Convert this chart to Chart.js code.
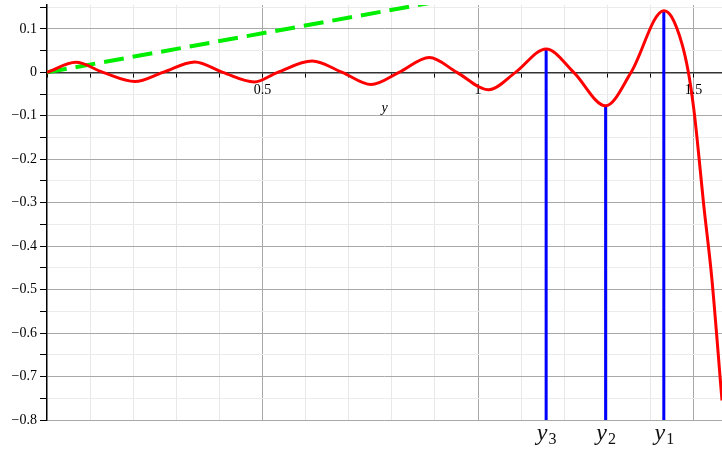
<!DOCTYPE html>
<html>
<head>
<meta charset="utf-8">
<script src="https://cdn.jsdelivr.net/npm/chart.js@4.4.0/dist/chart.umd.min.js"></script>
<style>
html, body { margin: 0; padding: 0; background: #fff; }
#wrap { width: 722px; height: 453px; }
</style>
</head>
<body>
<div id="wrap"><canvas id="plot"></canvas></div>
<script>
// red curve (peaks, troughs and zero crossings)
const curveX = [0, 0.067, 0.13, 0.204, 0.269, 0.343, 0.408, 0.481, 0.535, 0.615, 0.685, 0.752, 0.817, 0.887, 0.951,
    1.025, 1.087, 1.158, 1.222, 1.296, 1.355, 1.431, 1.449, 1.473, 1.488, 1.500, 1.508, 1.523, 1.542, 1.566];
const curveY = [0, 0.023, 0, -0.021, 0, 0.024, 0, -0.022, 0, 0.026, 0, -0.028, 0, 0.034, 0,
    -0.040, 0, 0.054, 0, -0.077, 0, 0.142, 0.128, 0.066, 0, -0.08, -0.15, -0.30, -0.47, -0.755];

// green dashed line
const lineX = [0, 0.89];
const lineY = [0, 0.16];

// blue markers
const rootX = [1.158, 1.296, 1.431];
const rootY = [0.054, -0.077, 0.142];
const rootSubs = ['3', '2', '1'];

const xMin = 0, xMax = 1.566;
const yMin = -0.8, yMax = 0.155;

function zip(xs, ys) {
    return xs.map((x, i) => ({x: x, y: ys[i]}));
}

function isMajorX(v) { return Math.round(v * 10) % 5 === 0; }
function isMajorY(v) { return Math.round(v * 100) % 10 === 0; }

const datasets = [
    {
        data: zip(curveX, curveY),
        borderColor: '#ff0000',
        borderWidth: 3,
        cubicInterpolationMode: 'monotone',
        pointRadius: 0,
        order: 0
    },
    {
        data: zip(lineX, lineY),
        borderColor: '#00ee00',
        borderWidth: 4,
        borderDash: [20, 9],
        pointRadius: 0,
        order: 2
    }
];
rootX.forEach((rx, i) => {
    datasets.push({
        data: [{x: rx, y: yMin}, {x: rx, y: rootY[i]}],
        borderColor: '#0000ff',
        borderWidth: 3,
        pointRadius: 0,
        order: 1
    });
});

const rootLabelPlugin = {
    id: 'rootLabels',
    afterDraw(chart) {
        const ctx = chart.ctx;
        const xs = chart.scales.x;
        const base = chart.chartArea.bottom + 20;
        ctx.save();
        ctx.fillStyle = '#111';
        ctx.textBaseline = 'alphabetic';
        rootX.forEach((rx, i) => {
            const cx = xs.getPixelForValue(rx);
            ctx.font = 'italic 24px "Liberation Serif"';
            const w1 = ctx.measureText('y').width;
            ctx.font = '16px "Liberation Serif"';
            const w2 = ctx.measureText(rootSubs[i]).width;
            const left = cx - (w1 + w2) / 2;
            ctx.font = 'italic 24px "Liberation Serif"';
            ctx.fillText('y', left, base);
            ctx.font = '16px "Liberation Serif"';
            ctx.fillText(rootSubs[i], left + w1 + 1, base + 4);
        });
        ctx.restore();
    }
};

const chart = new Chart(document.getElementById('plot'), {
    type: 'line',
    data: { datasets: datasets },
    plugins: [rootLabelPlugin],
    options: {
        responsive: true,
        maintainAspectRatio: false,
        animation: false,
        layout: { padding: { top: 5, bottom: 33, left: 0, right: 0 } },
        plugins: { legend: { display: false }, tooltip: { enabled: false } },
        scales: {
            x: {
                type: 'linear',
                min: xMin,
                max: xMax,
                position: { y: 0 },
                afterBuildTicks: scale => {
                    let t = [];
                    for (let i = 0; i <= 15; i++) t.push({value: i / 10});
                    scale.ticks = t;
                },
                ticks: {
                    autoSkip: false,
                    maxRotation: 0,
                    padding: 6,
                    color: '#000',
                    font: { family: '"Liberation Serif"', size: 14 },
                    callback: v => (v !== 0 && isMajorX(v)) ? String(Math.round(v * 10) / 10) : ''
                },
                grid: {
                    color: c => {
                        const v = c.tick.value;
                        if (v === 0) return 'rgba(0,0,0,0)';
                        return isMajorX(v) ? '#a8a8a8' : '#e8e8e8';
                    },
                    tickColor: '#000',
                    tickLength: 4
                },
                border: { color: '#333', width: 1.5 },
                title: {
                    display: true,
                    text: 'y',
                    color: '#000',
                    padding: { top: -5, bottom: 0 },
                    font: { family: '"Liberation Serif"', size: 14, style: 'italic' }
                }
            },
            y: {
                type: 'linear',
                min: yMin,
                max: yMax,
                afterBuildTicks: scale => {
                    let t = [];
                    for (let i = -16; i <= 3; i++) t.push({value: i * 0.05});
                    scale.ticks = t;
                },
                afterFit: scale => {
                    scale.width = 47;
                    scale.paddingTop = 0;
                    scale.paddingBottom = 0;
                },
                ticks: {
                    autoSkip: false,
                    padding: 3,
                    color: '#000',
                    font: { family: '"Liberation Serif"', size: 14 },
                    callback: v => {
                        if (!isMajorY(v)) return '';
                        const r = Math.round(v * 10) / 10;
                        if (r === 0) return '0';
                        return (r < 0 ? '\u2212' : '') + Math.abs(r).toFixed(1);
                    }
                },
                grid: {
                    color: c => {
                        const v = c.tick.value;
                        if (Math.abs(v) < 1e-9) return '#333';
                        return isMajorY(v) ? '#a8a8a8' : '#ececec';
                    },
                    tickColor: '#000',
                    tickLength: 7
                },
                border: { color: '#000', width: 1.5 }
            }
        }
    }
});
</script>
</body>
</html>
